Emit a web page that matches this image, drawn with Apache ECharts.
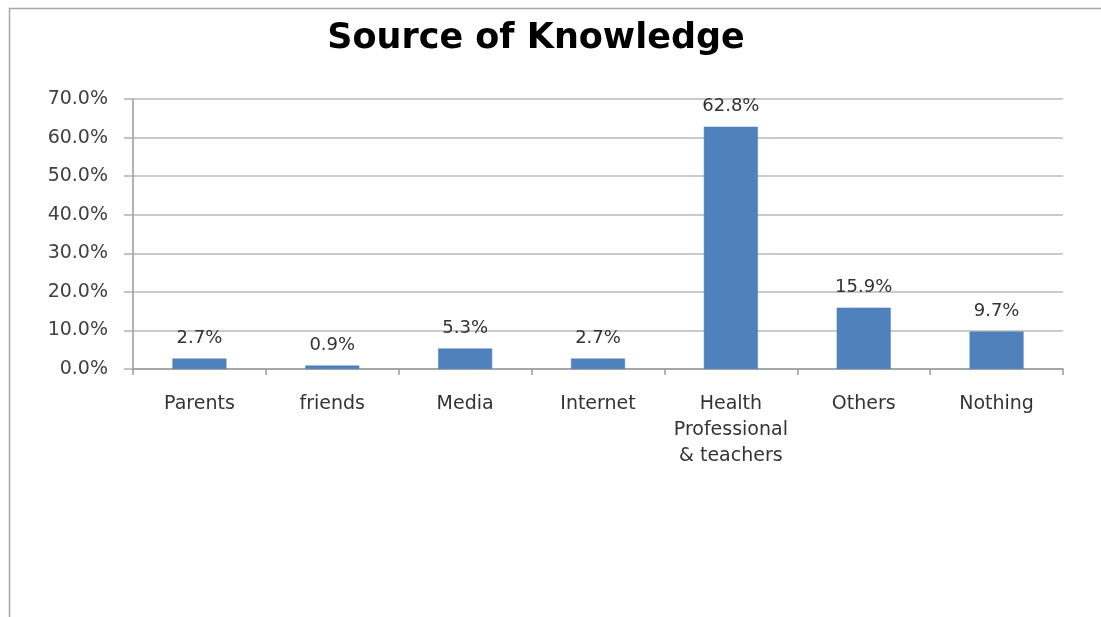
<!DOCTYPE html>
<html>
<head>
<meta charset="utf-8">
<script src="https://cdn.jsdelivr.net/npm/echarts@6/dist/echarts.min.js"></script>
<style>html,body{margin:0;padding:0;background:#fff;}#c{width:1101px;height:617px;}</style>
</head>
<body>
<div id="c"></div>
<script>
const categories = ['Parents', 'friends', 'Media', 'Internet', 'Health\nProfessional\n& teachers', 'Others', 'Nothing'];
const values = [2.7, 0.9, 5.3, 2.7, 62.8, 15.9, 9.7];
const yTicks = [0, 10, 20, 30, 40, 50, 60, 70];

const chart = echarts.init(document.getElementById('c'), null, {renderer: 'canvas'});
const font = 'DejaVu Sans, sans-serif';
chart.setOption({
  animation: false,
  backgroundColor: '#fff',
  graphic: [{
    type: 'rect', shape: {x: 9.5, y: 8.5, width: 1200, height: 700},
    style: {fill: 'none', stroke: '#a6a6a6', lineWidth: 1.5}, silent: true
  }],
  title: {
    text: 'Source of Knowledge', left: 531, top: 16, textAlign: 'center',
    textStyle: {fontFamily: font, fontSize: 35, fontWeight: 'bold', color: '#000'}
  },
  grid: {left: 133, right: 38, top: 99, bottom: 248, containLabel: false},
  xAxis: {
    type: 'category', data: categories,
    axisLine: {lineStyle: {color: '#9a9a9a', width: 1.5}},
    axisTick: {show: true, length: 6, lineStyle: {color: '#9a9a9a', width: 1.5}},
    axisLabel: {fontFamily: font, fontSize: 19, color: '#333', margin: 22, lineHeight: 26, interval: 0}
  },
  yAxis: {
    type: 'value', min: yTicks[0], max: yTicks[yTicks.length - 1], interval: 10,
    axisLine: {show: true, lineStyle: {color: '#9a9a9a', width: 1.5}},
    axisTick: {show: true, length: 9, lineStyle: {color: '#b0b0b0', width: 1.5}},
    splitLine: {lineStyle: {color: '#b8b8b8', width: 1.5}},
    axisLabel: {fontFamily: font, fontSize: 19, color: '#404040', margin: 25,
      formatter: v => v.toFixed(1) + '%'}
  },
  series: [{
    type: 'bar', data: values, barWidth: 54,
    itemStyle: {color: '#4f81bd', borderColor: '#4a7ebb', borderWidth: 0.5},
    label: {show: true, position: 'top', distance: 11, fontFamily: font, fontSize: 18, color: '#333',
      formatter: p => p.value.toFixed(1) + '%'}
  }]
});
</script>
</body>
</html>
